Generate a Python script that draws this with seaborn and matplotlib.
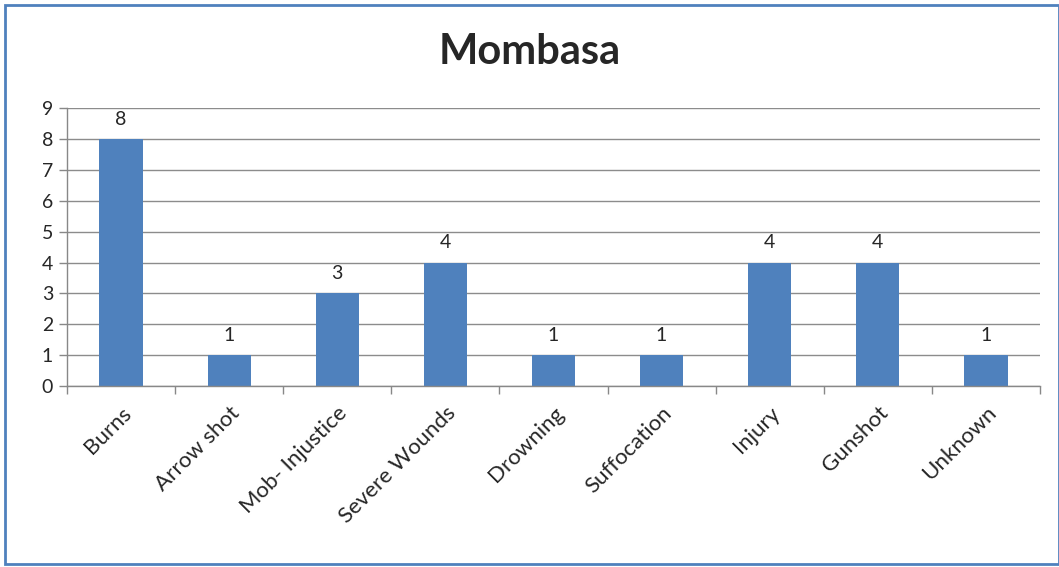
import matplotlib.pyplot as plt
import seaborn as sns
import numpy as np
import pandas as pd
from matplotlib.patches import Rectangle

# Data
causes = ['Burns', 'Arrow shot', 'Mob- Injustice', 'Severe Wounds', 'Drowning',
          'Suffocation', 'Injury', 'Gunshot', 'Unknown']
counts = [8, 1, 3, 4, 1, 1, 4, 4, 1]
y_ticks = list(range(0, 10))

sns.set_theme(style="white")
plt.rcParams['font.family'] = ['Lato', 'DejaVu Sans']

df = pd.DataFrame({'Cause': causes, 'Count': counts})

fig = plt.figure(figsize=(10.59, 5.67), dpi=100)
ax = fig.add_axes([0.0633, 0.319, 0.9187, 0.4905])

sns.barplot(data=df, x='Cause', y='Count', color='#4F81BD', saturation=1,
            width=0.4, linewidth=0, ax=ax)

ax.set_ylim(0, 9)
ax.set_xlim(-0.5, len(causes) - 0.5)
ax.set_yticks(y_ticks)
ax.set_yticklabels([str(v) for v in y_ticks], fontsize=14)
ax.set_xticks(np.arange(len(causes)))
ax.set_xticklabels(causes, rotation=45, ha='right', rotation_mode='anchor', fontsize=16)
ax.tick_params(axis='x', which='major', length=0, pad=12, bottom=True)
ax.set_xticks(np.arange(len(causes) + 1) - 0.5, minor=True)
ax.tick_params(axis='x', which='minor', length=6, color='#888888', width=1,
               direction='out', bottom=True)
ax.tick_params(axis='y', length=6, color='#888888', width=1, direction='out',
               pad=4, left=True)
ax.set_xlabel('')
ax.set_ylabel('')

ax.yaxis.grid(True, color='#8c8c8c', linewidth=1)
ax.set_axisbelow(True)
for side in ['top', 'right']:
    ax.spines[side].set_visible(False)
for side in ['left', 'bottom']:
    ax.spines[side].set_color('#888888')
    ax.spines[side].set_linewidth(1)

for container in ax.containers:
    ax.bar_label(container, fmt='%d', padding=8, fontsize=14)

fig.text(0.5, 0.908, 'Mombasa', ha='center', va='center', fontsize=30, weight='bold')

# outer chart border
fig.patches.append(Rectangle((0.005, 0.006), 0.995, 0.985, transform=fig.transFigure,
                             fill=False, edgecolor='#4F81BD', linewidth=2))

plt.savefig('out.png', dpi=100)
plt.close()
